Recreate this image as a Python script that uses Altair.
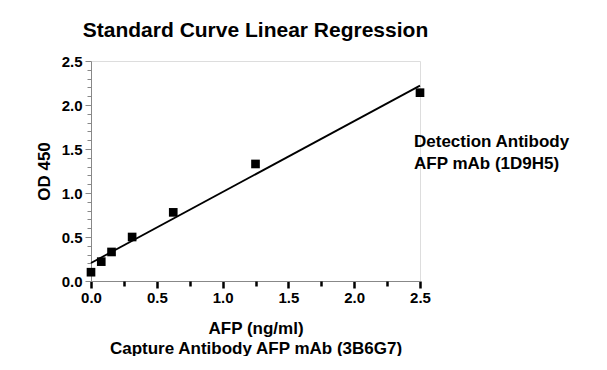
import altair as alt
import pandas as pd

# Standard curve data (AFP concentration ng/ml vs OD 450)
conc = [0.0, 0.078, 0.156, 0.3125, 0.625, 1.25, 2.5]
od450 = [0.10, 0.22, 0.33, 0.50, 0.78, 1.33, 2.14]

x_major_values = [0.0, 0.5, 1.0, 1.5, 2.0, 2.5]
x_minor_values = [0.25, 0.75, 1.25, 1.75, 2.25]
y_major_values = [0.0, 0.5, 1.0, 1.5, 2.0, 2.5]
y_minor_values = [0.1, 0.2, 0.3, 0.4, 0.6, 0.7, 0.8, 0.9,
                  1.1, 1.2, 1.3, 1.4, 1.6, 1.7, 1.8, 1.9,
                  2.1, 2.2, 2.3, 2.4]

title_text = "Standard Curve Linear Regression"
x_title = ["AFP (ng/ml)", "Capture Antibody AFP mAb (3B6G7)"]
y_title = "OD 450"
note_text = "Detection Antibody\nAFP mAb (1D9H5)"

FONT = "Liberation Sans"
df = pd.DataFrame({"conc": conc, "od": od450})

x_scale = alt.Scale(domain=[0, 2.5], nice=False, zero=False)
y_scale = alt.Scale(domain=[0, 2.5], nice=False, zero=False)

x_major = alt.X(
    "conc:Q",
    scale=x_scale,
    axis=alt.Axis(
        orient="bottom",
        values=x_major_values,
        format=".1f",
        labelOverlap=False,
        labelFlush=False,
        title=x_title,
        titleFont=FONT,
        titleFontSize=17,
        titleFontWeight="bold",
        titleColor="black",
        titlePadding=15,
        titleLineHeight=20,
        labelFont=FONT,
        labelFontSize=15,
        labelFontWeight="bold",
        labelColor="black",
        labelPadding=2,
        ticks=True,
        tickSize=7,
        tickWidth=2.5,
        tickColor="#000000",
        tickOpacity=1,
        grid=False,
    ),
)
x_minor = alt.X(
    "conc:Q",
    scale=x_scale,
    axis=alt.Axis(
        orient="bottom",
        values=x_minor_values,
        labels=False,
        title=None,
        domain=False,
        ticks=True,
        tickSize=5,
        tickWidth=2.5,
        tickColor="#000000",
        tickOpacity=1,
        grid=False,
    ),
)
y_major = alt.Y(
    "od:Q",
    scale=y_scale,
    axis=alt.Axis(
        orient="left",
        values=y_major_values,
        format=".1f",
        labelOverlap=False,
        labelFlush=False,
        title=y_title,
        titleFont=FONT,
        titleFontSize=17,
        titleFontWeight="bold",
        titleColor="black",
        titlePadding=8,
        labelFont=FONT,
        labelFontSize=15,
        labelFontWeight="bold",
        labelColor="black",
        labelPadding=3,
        tickSize=6,
        grid=False,
    ),
)
y_minor = alt.Y(
    "od:Q",
    scale=y_scale,
    axis=alt.Axis(
        orient="left",
        values=y_minor_values,
        labels=False,
        title=None,
        domain=False,
        tickSize=4,
        grid=False,
    ),
)

base = alt.Chart(df)

fit = (
    base.transform_regression("conc", "od", extent=[0, 2.5])
    .mark_line(color="black", strokeWidth=1.8)
    .encode(x=x_major, y=y_minor)
)

points = base.mark_square(size=75, color="black", opacity=1, clip=False).encode(
    x=x_minor, y=y_major
)

note = (
    alt.Chart(pd.DataFrame({"t": [note_text]}))
    .mark_text(
        align="left",
        baseline="alphabetic",
        font=FONT,
        fontSize=17,
        fontWeight="bold",
        color="black",
        lineBreak="\n",
        lineHeight=22,
    )
    .encode(x=alt.value(323), y=alt.value(86), text="t:N")
)

chart = (
    alt.layer(fit, points, note)
    .resolve_axis(x="independent", y="independent")
    .properties(
        width=329,
        height=220,
        title=alt.TitleParams(
            title_text,
            font=FONT,
            fontSize=21,
            fontWeight="bold",
            color="black",
            anchor="middle",
            offset=13,
        ),
        autosize=alt.AutoSizeParams(type="none"),
        padding={"left": 83, "top": 53, "right": 170, "bottom": 75},
    )
    .configure_axis(
        domainColor="black",
        domainWidth=3,
        domainOpacity=1,
        tickColor="black",
        tickWidth=2.5,
        tickOpacity=1,
    )
    .configure_view(stroke=None)
    .configure(background="white")
)

chart.save("out.html", embed_options={"renderer": "svg", "actions": False})
